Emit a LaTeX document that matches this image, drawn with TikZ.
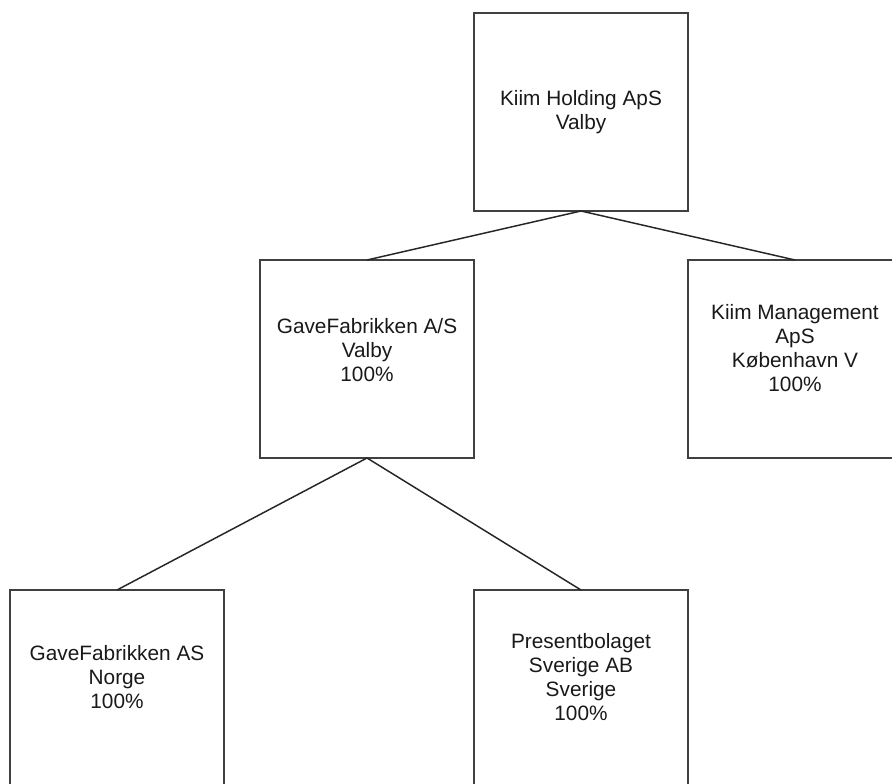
\documentclass[tikz,border=0pt]{standalone}
\usepackage{fontspec}
\setmainfont{Liberation Sans}
\begin{document}
\begin{tikzpicture}[x=0.75pt,y=-0.75pt,
  box/.style={draw=black!75, line width=1.4pt, rectangle, minimum width=160.5pt, minimum height=148.5pt, inner sep=0pt, outer sep=0pt, fill=white},
  txt/.style={align=center, font=\fontsize{15.6pt}{18pt}\selectfont, text=black!90, inner sep=0pt},
  link/.style={draw=black!85, line width=1.1pt}]
\useasboundingbox (0,0) rectangle (892,784);
\clip (0,0) rectangle (892,784);
\fill[white] (0,0) rectangle (892,784);
\node[box] (top) at (581,112) {};
\node[box] (gfa) at (367,359) {};
\node[box] (kiim) at (795,359) {};
\node[box] (gfas) at (117,689) {};
\node[box] (pres) at (581,689) {};
\draw[link] (top.south) -- (gfa.north);
\draw[link] (top.south) -- (kiim.north);
\draw[link] (gfa.south) -- (gfas.north);
\draw[link] (gfa.south) -- (pres.north);
\node[txt] (ttop) at (581,112.5) {Kiim Holding ApS\\Valby};
\node[txt] (tgfa) at (367,350) {GaveFabrikken A/S\\Valby\\100\%};
\node[txt] (tkiim) at (795,348) {Kiim Management\\ApS\\København V\\100\%};
\node[txt] (tgfas) at (117,677.5) {GaveFabrikken AS\\Norge\\100\%};
\node[txt] (tpres) at (581,677.5) {Presentbolaget\\Sverige AB\\Sverige\\100\%};
\end{tikzpicture}
\end{document}
